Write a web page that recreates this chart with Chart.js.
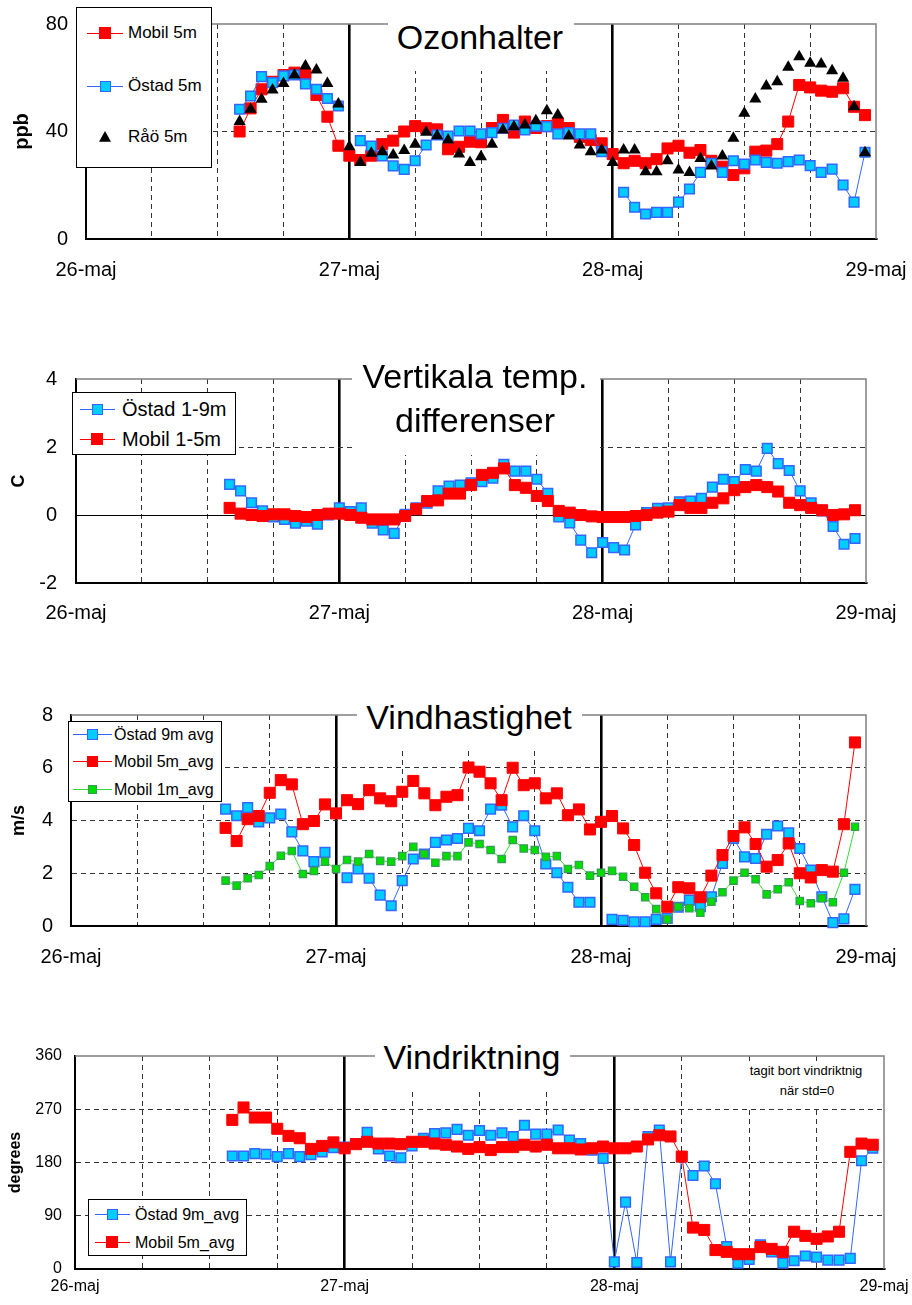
<!DOCTYPE html>
<html>
<head>
<meta charset="utf-8">
<script src="https://cdn.jsdelivr.net/npm/chart.js@4.4.0/dist/chart.umd.min.js"></script>
<style>
body { margin: 0; background: #fff; }
#page { position: relative; width: 912px; height: 1305px; font-family: "Liberation Sans", Arial, sans-serif; color: #000; overflow: hidden; }
.wrap { position: absolute; left: 0; width: 912px; }
.box { position: absolute; background: #fff; }
.leg { position: absolute; background: #fff; border: 1px solid #000; box-sizing: border-box; }
.txt { position: absolute; white-space: nowrap; line-height: 1.2; }
.ln { position: absolute; height: 0; }
.mk { position: absolute; box-sizing: border-box; }
</style>
</head>
<body>
<div id="page">
  <div class="wrap" style="top:0;height:300px"><canvas id="ozon"></canvas></div>
  <div class="wrap" style="top:330px;height:300px"><canvas id="temp"></canvas></div>
  <div class="wrap" style="top:660px;height:310px"><canvas id="vind"></canvas></div>
  <div class="wrap" style="top:1010px;height:295px"><canvas id="riktn"></canvas></div>
</div>
<script>
// hours after 26-maj 00:00
var hours = [14, 15, 16, 17, 18, 19, 20, 21, 22, 23,
  24, 25, 26, 27, 28, 29, 30, 31, 32, 33,
  34, 35, 36, 37, 38, 39, 40, 41, 42, 43,
  44, 45, 46, 47, 48, 49, 50, 51, 52, 53,
  54, 55, 56, 57, 58, 59, 60, 61, 62, 63,
  64, 65, 66, 67, 68, 69, 70, 71];
var dayLabels = ["26-maj", "27-maj", "28-maj", "29-maj"];

// Ozonhalter (ppb)
var ozonMobil = [40, 48.6, 55.7, 58.5, 61, 61.9, 61, 53.6, 45.5, 34.7,
  31, 29.4, 31, 35.3, 36.6, 40, 42, 41.2, 40.8, 33.4,
  34.3, 36.2, 36, 41.3, 44.3, 39.6, 43.7, 41.3, 42, 43.1,
  41.3, 38, 36.8, 35.6, 31.6, 28.2, 29.1, 28.2, 29.7, 33.7,
  34.7, 32.1, 33.1, 29.1, 26.9, 23.8, 26.3, 32.5, 32.9, 35.3,
  43.7, 57.3, 56.4, 55.2, 54.8, 56.1, 49.2, 46.1];
var ozonOstad = [48.3, 53.2, 60.4, 58.2, 60.7, 61, 57.7, 55.7, 52.3, 49.5,
  null, 36.6, 34.6, 30.9, 27.2, 25.9, 29.1, 35, 38.7, 38.3,
  40.2, 40.2, 39.1, 39.6, 41.2, 42.4, 40.6, 42, 41.8, 39.1,
  39.6, 39.1, 39.1, 32.5, null, 17.4, 11.8, 9.3, 9.9, 9.9,
  13.7, 18.6, 24.8, 28.2, 24.8, 29.1, 27.9, 29.4, 28.5, 28.2,
  28.8, 29.4, 27.3, 24.8, 26, 20.1, 13.7, 32.3];
var ozonRao = [43.7, 48.3, 52, 55.4, 57.9, 61, 64.4, 62.9, 57.9, 50.2,
  34.3, 28.5, 31.9, 32.5, 31.3, 32.9, 35.3, 39.7, 38.4, 36.8,
  31.6, 28.5, 30.6, 35.3, 40.6, 41.8, 42.4, 44, 47.7, 46.1,
  38.3, 35, 32.5, 33.1, 28.5, 33.1, 33.1, 25, 25, 29.1,
  25.7, 24.7, 30, 27.2, 30.9, 37.5, 46.8, 52.1, 56.9, 58.5,
  63.9, 67.8, 65.4, 65.1, 62.6, 59.8, 49.2, 32.1];

// Vertikala temp. differenser (C)
var tempOstad = [0.9, 0.71, 0.36, 0.12, -0.06, -0.13, -0.24, -0.18, -0.27, 0,
  0.21, 0.1, 0.21, -0.24, -0.44, -0.54, 0.02, 0.21, 0.35, 0.71,
  0.85, 0.88, 0.95, 0.98, 1.08, 1.49, 1.29, 1.29, 1.05, 0.64,
  -0.06, -0.23, -0.74, -1.11, -0.81, -0.96, -1.03, -0.29, 0.07, 0.2,
  0.21, 0.39, 0.41, 0.49, 0.82, 1.05, 0.98, 1.34, 1.29, 1.96,
  1.51, 1.31, 0.71, 0.36, 0.12, -0.34, -0.86, -0.69];
var tempMobil = [0.21, 0.04, 0, -0.03, 0.02, 0.02, -0.03, -0.06, 0, 0.04,
  0.04, 0, -0.08, -0.13, -0.13, -0.13, -0.03, 0.17, 0.41, 0.43,
  0.63, 0.63, 0.88, 1.18, 1.24, 1.37, 0.88, 0.8, 0.56, 0.41,
  0.12, 0.07, 0, -0.04, -0.06, -0.06, -0.06, -0.03, 0, 0.07,
  0.1, 0.29, 0.21, 0.21, 0.36, 0.49, 0.73, 0.82, 0.88, 0.82,
  0.69, 0.36, 0.29, 0.21, 0.14, 0, 0.02, 0.14];

// Vindhastighet (m/s)
var vindOstad9 = [4.43, 4.18, 4.49, 3.95, 4.1, 4.24, 3.57, 2.85, 2.44, 2.79,
  null, 1.83, 2.16, 1.81, 1.17, 0.77, 1.72, 2.54, 2.73, 3.17,
  3.26, 3.32, 3.7, 3.61, 4.43, 4.58, 3.76, 4.18, 3.61, 2.35,
  2.02, 1.47, 0.9, 0.9, null, 0.25, 0.22, 0.16, 0.16, 0.25,
  0.29, 0.71, 0.98, 0.73, 1.11, 2.37, 3.32, 2.62, 2.56, 3.48,
  3.79, 3.53, 2.94, 2.12, 1.11, 0.13, 0.27, 1.39];
var vindMobil5 = [3.72, 3.22, 4.05, 4.17, 5.05, 5.53, 5.37, 3.86, 3.98, 4.61,
  4.27, 4.77, 4.62, 5.15, 4.84, 4.73, 5.09, 5.5, 5.03, 4.58,
  4.9, 4.96, 6.01, 5.85, 5.41, 4.77, 6, 5.34, 5.41, 4.84,
  5.03, 4.2, 4.42, 3.66, 3.95, 4.17, 3.7, 3.07, 2.02, 1.24,
  0.73, 1.47, 1.43, 1.09, 1.91, 2.69, 3.41, 3.74, 3.11, 2.25,
  2.5, 3.13, 2, 1.84, 2.12, 2.06, 3.86, 6.96];
var vindMobil1 = [1.72, 1.53, 1.81, 1.93, 2.27, 2.66, 2.84, 1.97, 2.09, 2.44,
  2.16, 2.5, 2.44, 2.73, 2.47, 2.44, 2.65, 3, 2.73, 2.4,
  2.65, 2.65, 3.17, 3.11, 2.88, 2.54, 3.26, 2.94, 2.88, 2.62,
  2.65, 2.16, 2.31, 1.91, 2.02, 2.09, 1.87, 1.49, 1.09, 0.64,
  0.25, 0.73, 0.67, 0.5, 0.92, 1.28, 1.72, 2.02, 1.77, 1.2,
  1.39, 1.66, 0.95, 0.86, 1.05, 0.9, 2.02, 3.76];

// Vindriktning (degrees)
var riktOstad = [191, 191, 195, 194, 190, 195, 190, 193, 198, 205,
  206, 212, 231, 203, 191, 188, 208, 221, 229, 230,
  236, 226, 234, 226, 230, 224, 243, 228, 228, 235,
  218, 212, 201, 187, 12, 113, 11, 224, 235, 12,
  190, 158, 174, 144, 38, 10, 16, 41, 29, 10,
  14, 22, 20, 15, 15, 18, 183, 204];
var riktMobil = [252, 273, 256, 256, 237, 225, 221, 203, 208, 214,
  204, 211, 215, 212, 212, 211, 215, 215, 212, 210,
  207, 203, 206, 201, 206, 206, 210, 207, 210, 204,
  204, 202, 204, 207, 204, 204, 207, 219, 226, 224,
  190, 70, 66, 32, 29, 25, 25, 37, 34, 29,
  63, 56, 51, 55, 63, 198, 212, 210];

var FONT = '"Liberation Sans", Arial, sans-serif';
var page = document.getElementById("page");

function pts(vals) {
  return hours.map(function (h, i) { return { x: h, y: vals[i] }; });
}

var RED = { borderColor: "#ff0000", borderWidth: 1, pointStyle: "rect", pointRadius: 7.8,
  pointBackgroundColor: "#ff0000", pointBorderColor: "#ff0000", pointBorderWidth: 1 };
var BLUE = { borderColor: "#3366ff", borderWidth: 1, pointStyle: "rect", pointRadius: 6.8,
  pointBackgroundColor: "#00ccff", pointBorderColor: "#3366ff", pointBorderWidth: 1.5 };
var GREEN = { borderColor: "#33dd33", borderWidth: 1, pointStyle: "rect", pointRadius: 5.2,
  pointBackgroundColor: "#00dd00", pointBorderColor: "#3a9a5a", pointBorderWidth: 1.2 };
var TRI = { showLine: false, pointStyle: "triangle", pointRadius: 7,
  pointBackgroundColor: "#000", pointBorderColor: "#000", pointBorderWidth: 0, borderColor: "#000" };

function ds(label, vals, style, order) {
  return Object.assign({ label: label, data: pts(vals), order: order, clip: false,
    tension: 0, spanGaps: false, fill: false }, style);
}

// plot frame: gray top and right edges
var framePlugin = {
  id: "frame",
  beforeDatasetsDraw: function (chart) {
    var a = chart.chartArea, c = chart.ctx;
    c.save();
    c.strokeStyle = "#808080";
    c.lineWidth = 1.5;
    c.beginPath();
    c.moveTo(a.left, a.top);
    c.lineTo(a.right, a.top);
    c.lineTo(a.right, a.bottom);
    c.stroke();
    c.restore();
  }
};

function panel(id, p) {
  var yMin = p.yMin, yMax = p.yMax;
  new Chart(document.getElementById(id), {
    type: "line",
    data: { datasets: p.datasets },
    plugins: [framePlugin],
    options: {
      responsive: true,
      maintainAspectRatio: false,
      animation: false,
      events: [],
      layout: { padding: { top: p.padTop, right: p.padRight, left: 0, bottom: 0 } },
      plugins: { legend: { display: false }, tooltip: { enabled: false }, title: { display: false } },
      scales: {
        x: {
          type: "linear", min: 0, max: 72,
          afterFit: function (s) { s.height = p.xHeight; s.paddingLeft = 0; s.paddingRight = 0; },
          ticks: {
            stepSize: 6, autoSkip: false, maxRotation: 0, color: "#000",
            padding: p.xPad, font: { family: FONT, size: p.tickSize },
            callback: function (v) { return v % 24 === 0 ? dayLabels[v / 24] : ""; }
          },
          grid: {
            drawTicks: false,
            color: function (ctx) {
              var v = ctx.tick ? ctx.tick.value : 0;
              if (v === 0 || v === 72) return "rgba(0,0,0,0)";
              return v % 24 === 0 ? "#000" : "#333";
            },
            lineWidth: function (ctx) {
              var v = ctx.tick ? ctx.tick.value : 0;
              return v % 24 === 0 ? 2.6 : 1;
            }
          },
          border: {
            color: "#000", width: 2,
            dash: function (ctx) {
              return (ctx.type === "tick" && ctx.tick.value % 24 !== 0) ? [5, 4] : [];
            }
          }
        },
        y: {
          min: yMin, max: yMax,
          afterFit: function (s) { s.width = p.yWidth; s.paddingTop = 0; s.paddingBottom = 0; },
          title: { display: true, text: p.yTitle, color: "#000",
            font: { family: FONT, size: p.yTitleSize, weight: "bold" },
            padding: { top: p.yTitlePad, bottom: 0 } },
          ticks: { stepSize: p.yStep, color: "#000", padding: p.yPad,
            font: { family: FONT, size: p.tickSize } },
          grid: {
            drawTicks: false,
            color: function (ctx) {
              var v = ctx.tick ? ctx.tick.value : yMin;
              if (v === yMin || v === yMax) return "rgba(0,0,0,0)";
              return v === 0 ? "#000" : "#333";
            },
            lineWidth: 1
          },
          border: {
            color: "#000", width: 2,
            dash: function (ctx) {
              return (ctx.type === "tick" && ctx.tick.value !== 0) ? [5, 4] : [];
            }
          }
        }
      }
    }
  });
}

panel("ozon", {
  datasets: [ds("Mobil 5m", ozonMobil, RED, 3), ds("Östad 5m", ozonOstad, BLUE, 2), ds("Råö 5m", ozonRao, TRI, 1)],
  yMin: 0, yMax: 80, yStep: 40, yTitle: "ppb", yTitleSize: 20, yTitlePad: 10,
  padTop: 24, padRight: 36, yWidth: 86, xHeight: 61, xPad: 19, yPad: 18, tickSize: 20
});
panel("temp", {
  datasets: [ds("Östad 1-9m", tempOstad, BLUE, 2), ds("Mobil 1-5m", tempMobil, RED, 1)],
  yMin: -2, yMax: 4, yStep: 2, yTitle: "C", yTitleSize: 18, yTitlePad: 8,
  padTop: 49, padRight: 46, yWidth: 76, xHeight: 47, xPad: 18, yPad: 19, tickSize: 20
});
panel("vind", {
  datasets: [ds("Östad 9m avg", vindOstad9, BLUE, 3), ds("Mobil 5m_avg", vindMobil5, RED, 2),
    ds("Mobil 1m_avg", vindMobil1, GREEN, 1)],
  yMin: 0, yMax: 8, yStep: 2, yTitle: "m/s", yTitleSize: 18, yTitlePad: 8,
  padTop: 55, padRight: 46, yWidth: 71, xHeight: 44, xPad: 19, yPad: 18, tickSize: 20
});
panel("riktn", {
  datasets: [ds("Östad 9m_avg", riktOstad, BLUE, 2), ds("Mobil 5m_avg", riktMobil, RED, 1)],
  yMin: 0, yMax: 360, yStep: 90, yTitle: "degrees", yTitleSize: 16, yTitlePad: 6,
  padTop: 46, padRight: 28, yWidth: 75, xHeight: 36, xPad: 8, yPad: 13, tickSize: 16
});

// ---- overlay texts: titles, legends, note ----
function el(cls, css, text) {
  var d = document.createElement("div");
  d.className = cls;
  d.style.cssText = css;
  if (text) d.textContent = text;
  page.appendChild(d);
  return d;
}
function text(str, x, base, size, center) {
  var css = "font-size:" + size + "px;top:" + (base - 0.9465 * size) + "px;left:" + x + "px;";
  if (center) css += "transform:translateX(-50%);";
  el("txt", css, str);
}
function box(l, t, w, h) { el("box", "left:" + l + "px;top:" + t + "px;width:" + w + "px;height:" + h + "px"); }
function legBox(l, t, w, h) { el("leg", "left:" + l + "px;top:" + t + "px;width:" + w + "px;height:" + h + "px"); }
function line(x1, x2, y, color) {
  el("ln", "left:" + x1 + "px;top:" + (y - 0.5) + "px;width:" + (x2 - x1) + "px;border-top:1px solid " + color);
}
function square(cx, cy, s, fill, stroke, bw) {
  el("mk", "left:" + (cx - s / 2) + "px;top:" + (cy - s / 2) + "px;width:" + s + "px;height:" + s +
    "px;background:" + fill + ";border:" + bw + "px solid " + stroke);
}
function triangle(cx, cy, s) {
  el("mk", "left:" + (cx - s / 2) + "px;top:" + (cy - s / 2) + "px;width:" + s + "px;height:" + (s * 0.9) +
    "px;background:#000;clip-path:polygon(50% 0,100% 100%,0 100%)");
}

// panel 1
box(388, 6, 186, 65);
text("Ozonhalter", 480, 49.5, 34, true);
legBox(76, 7, 136, 161);
line(87, 123, 33, "#ff0000"); square(105, 33, 12, "#ff0000", "#ff0000", 0); text("Mobil 5m", 128, 39, 17);
line(87, 123, 86, "#3366ff"); square(105, 86, 11, "#00ccff", "#3366ff", 1.5); text("Östad 5m", 128, 92, 17);
triangle(105, 137, 12); text("Råö 5m", 128, 143, 17);

// panel 2
box(352, 362, 248, 93);
text("Vertikala temp.", 475, 388, 34, true);
text("differenser", 475, 432, 34, true);
legBox(72, 392, 164, 63);
line(80, 115, 409, "#3366ff"); square(97, 409, 11, "#00ccff", "#3366ff", 1.5); text("Östad 1-9m", 122, 416, 20);
line(80, 115, 439, "#ff0000"); square(97, 439, 12, "#ff0000", "#ff0000", 0); text("Mobil 1-5m", 122, 446, 20);

// panel 3
box(357, 696, 225, 55);
text("Vindhastighet", 469, 729, 34, true);
legBox(68, 721, 154, 81);
line(73, 112, 734, "#3366ff"); square(92, 734, 11, "#00ccff", "#3366ff", 1.5); text("Östad 9m avg", 114, 740, 16);
line(73, 112, 761, "#ff0000"); square(92, 761, 11, "#ff0000", "#ff0000", 0); text("Mobil 5m_avg", 114, 767, 16);
line(73, 112, 789, "#33dd33"); square(92, 789, 9, "#00dd00", "#3a9a5a", 1.2); text("Mobil 1m_avg", 114, 795, 16);

// panel 4
box(375, 1036, 195, 55);
text("Vindriktning", 472, 1069, 34, true);
box(740, 1062, 134, 44);
text("tagit bort vindriktnig", 806, 1075.5, 13, true);
text("när std=0", 807, 1095, 13, true);
legBox(88, 1199, 159, 57);
line(95, 130, 1214, "#3366ff"); square(112, 1214, 11, "#00ccff", "#3366ff", 1.5); text("Östad 9m_avg", 135, 1220, 16);
line(95, 130, 1242, "#ff0000"); square(112, 1242, 12, "#ff0000", "#ff0000", 0); text("Mobil 5m_avg", 135, 1248, 16);
</script>
</body>
</html>
